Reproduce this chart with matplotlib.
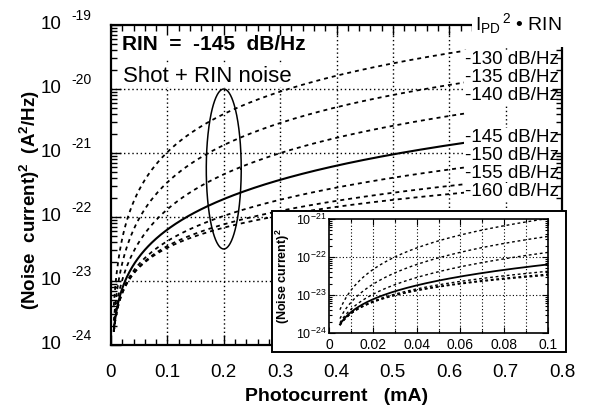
import numpy as np
import matplotlib
matplotlib.use("Agg")
import matplotlib.pyplot as plt
from matplotlib import transforms
from matplotlib.patches import Rectangle
from matplotlib.ticker import MultipleLocator, LogLocator, NullFormatter, FixedLocator

plt.rcParams["font.family"] = "Liberation Sans"
plt.rcParams["mathtext.fontset"] = "custom"
plt.rcParams["mathtext.rm"] = "Liberation Sans"
plt.rcParams["mathtext.it"] = "Liberation Sans:italic"
plt.rcParams["mathtext.bf"] = "Liberation Sans:bold"

# ---- data -------------------------------------------------------------
Q_E = 1.602e-19                      # electron charge (C)
rin_levels_db = [-130, -135, -140, -145, -150, -155, -160]
highlight_rin_db = -145              # drawn solid
current_span_ma = (0.005, 0.63)      # photocurrent range of the curves
inset_span_ma = (0.005, 0.1)

x_ticks_main = [0, 0.1, 0.2, 0.3, 0.4, 0.5, 0.6, 0.7, 0.8]
x_tick_labels_main = ["0", "0.1", "0.2", "0.3", "0.4", "0.5", "0.6", "0.7", "0.8"]
y_exponents_main = [-24, -23, -22, -21, -20, -19]
inset_x_ticks = [0, 0.02, 0.04, 0.06, 0.08, 0.1]
inset_x_grid = [0.01, 0.02, 0.03, 0.04, 0.05, 0.06, 0.07, 0.08, 0.09]
inset_x_labels = ["0", "0.02", "0.04", "0.06", "0.08", "0.1"]
inset_y_exponents = [-24, -23, -22, -21]
rin_labels = ["-130 dB/Hz", "-135 dB/Hz", "-140 dB/Hz", "-145 dB/Hz",
              "-150 dB/Hz", "-155 dB/Hz", "-160 dB/Hz"]


def noise_power(i_ma, rin_db):
    """Shot noise plus RIN noise power density (A^2/Hz)."""
    i = np.asarray(i_ma) * 1e-3
    return 2 * Q_E * i + i ** 2 * 10 ** (rin_db / 10.0)


W, H = 591, 408
fig = plt.figure(figsize=(W / 100, H / 100), dpi=100)


def fx(px):
    return px / W


def fy(py):
    return 1 - py / H


ax = fig.add_axes([fx(111), fy(345), fx(562) - fx(111), fy(25) - fy(345)])
ax.set_yscale("log")
ax.set_xlim(0, 0.8)
ax.set_ylim(1e-24, 1e-19)
# ticks drawn above the white label boxes, grid below them
ax.xaxis.set_zorder(2.6)
ax.yaxis.set_zorder(2.6)

dash = (0, (2.2, 2.2))
grid_style = (0, (1, 2))

for xv in x_ticks_main[1:-1]:
    ax.axvline(xv, color="k", linestyle=grid_style, lw=1.0, zorder=1)
for e in y_exponents_main[1:-1]:
    ax.axhline(10.0 ** e, color="k", linestyle=grid_style, lw=1.0, zorder=1)

i_main = np.linspace(*current_span_ma, 400)
for rin in rin_levels_db:
    if rin == highlight_rin_db:
        ax.plot(i_main, noise_power(i_main, rin), color="k", lw=1.5, zorder=2)
    else:
        ax.plot(i_main, noise_power(i_main, rin), color="k", lw=1.3,
                linestyle=dash, zorder=2)

# ellipse marking the curves around 0.2 mA (drawn in log space)
t = np.linspace(0, 2 * np.pi, 300)
ax.plot(0.2 + 0.031 * np.cos(t), 10 ** (-21.25 + 1.25 * np.sin(t)),
        color="k", lw=1.1, zorder=2)

ax.xaxis.set_major_locator(FixedLocator(x_ticks_main))
ax.xaxis.set_minor_locator(MultipleLocator(0.02))
ax.set_xticklabels(x_tick_labels_main, fontsize=13.5)
ax.yaxis.set_major_locator(FixedLocator([10.0 ** e for e in y_exponents_main]))
ax.yaxis.set_minor_locator(LogLocator(base=10, subs=np.arange(2, 10)))
ax.yaxis.set_minor_formatter(NullFormatter())
ax.set_yticklabels([])
ax.tick_params(which="both", direction="in", top=True, right=True, width=1)
ax.tick_params(which="major", length=7)
ax.tick_params(which="minor", length=4.5)
ax.tick_params(axis="x", pad=14)
for s in ax.spines.values():
    s.set_linewidth(1.6)

# y tick labels written as "10" with a detached exponent
ylab_tr = transforms.blended_transform_factory(fig.transFigure, ax.transData)
for e in y_exponents_main:
    fig.text(fx(62), 10.0 ** e, "10", transform=ylab_tr, ha="right",
             va="center", fontsize=13.5)
    fig.text(fx(71), 10.0 ** e * 10 ** 0.14, str(e), transform=ylab_tr,
             ha="left", va="center", fontsize=10)

ax.set_xlabel("Photocurrent   (mA)", fontsize=14, fontweight="bold",
              labelpad=5)
fig.text(fx(30), fy(200), r"(Noise  current)$^\mathbf{2}$  (A$^\mathbf{2}$/Hz)",
         rotation=90, ha="center", va="center", fontsize=13.5,
         fontweight="bold")

# title block in the upper left corner
ax.add_patch(Rectangle((0.0, (345 - 59) / 320), (333 - 111) / 451,
                       1 - (345 - 59) / 320, transform=ax.transAxes,
                       facecolor="white", edgecolor="none", zorder=2.1))
ax.text((122 - 111) / 451, (345 - 45) / 320, "RIN  =  -145  dB/Hz",
        transform=ax.transAxes, fontsize=15, fontweight="bold",
        ha="left", va="center", zorder=2.2)
ax.text((123 - 111) / 451, (345 - 76) / 320, "Shot + RIN noise",
        transform=ax.transAxes, fontsize=16, ha="left", va="center",
        zorder=2.2, bbox=dict(facecolor="white", edgecolor="none", pad=0.5))

# curve labels on the right
label_y_px = [59, 77.5, 96, 137, 155, 173, 192]
for txt, py in zip(rin_labels, label_y_px):
    ax.text((465 - 111) / 451, (345 - py) / 320, txt, transform=ax.transAxes,
            fontsize=13.5, ha="left", va="center", zorder=2.2, clip_on=False,
            bbox=dict(facecolor="white", edgecolor="none", pad=0.6))

fig.add_artist(Rectangle((fx(472), fy(47)), fx(W) - fx(472), fy(0) - fy(47),
                         transform=fig.transFigure, facecolor="white",
                         edgecolor="none", zorder=4))
fig.text(fx(475), fy(24), r"$\mathrm{I_{PD}}^{\,2}$ • RIN",
         fontsize=14, ha="left", va="center", zorder=4.5)

# ---- inset: low photocurrent range --------------------------------------
fig.add_artist(Rectangle((fx(272), fy(352)), fx(566) - fx(272),
                         fy(211) - fy(352), transform=fig.transFigure,
                         facecolor="white", edgecolor="k", lw=1.4, zorder=5))

axi = fig.add_axes([fx(329), fy(333), fx(548) - fx(329), fy(219) - fy(333)])
axi.set_zorder(6)
axi.set_yscale("log")
axi.set_xlim(0, 0.1)
axi.set_ylim(1e-24, 1e-21)
for xv in inset_x_grid:
    axi.axvline(xv, color="k", linestyle=grid_style, lw=0.8, zorder=1)
for e in inset_y_exponents[1:-1]:
    axi.axhline(10.0 ** e, color="k", linestyle=grid_style, lw=0.8, zorder=1)
i_in = np.linspace(*inset_span_ma, 300)
for rin in rin_levels_db:
    if rin == highlight_rin_db:
        axi.plot(i_in, noise_power(i_in, rin), color="k", lw=1.3)
    else:
        axi.plot(i_in, noise_power(i_in, rin), color="k", lw=1.0,
                 linestyle=(0, (2, 2)))
axi.xaxis.set_major_locator(FixedLocator(inset_x_ticks))
axi.xaxis.set_minor_locator(MultipleLocator(0.01))
axi.set_xticklabels(inset_x_labels, fontsize=10)
axi.yaxis.set_major_locator(FixedLocator([10.0 ** e for e in inset_y_exponents]))
axi.yaxis.set_minor_locator(LogLocator(base=10, subs=np.arange(2, 10)))
axi.yaxis.set_minor_formatter(NullFormatter())
axi.set_yticklabels([r"$10^{%d}$" % e for e in inset_y_exponents], fontsize=9)
axi.tick_params(which="both", direction="in", top=True, right=True, width=0.8)
axi.tick_params(which="major", length=4)
axi.tick_params(axis="y", pad=2)
axi.tick_params(which="minor", length=2.5)
for s in axi.spines.values():
    s.set_linewidth(1.2)
fig.text(fx(283), fy(276), r"(Noise current)$^\mathbf{2}$", rotation=90,
         ha="center", va="center", fontsize=9, fontweight="bold", zorder=7)

fig.savefig("out.png", dpi=100)
